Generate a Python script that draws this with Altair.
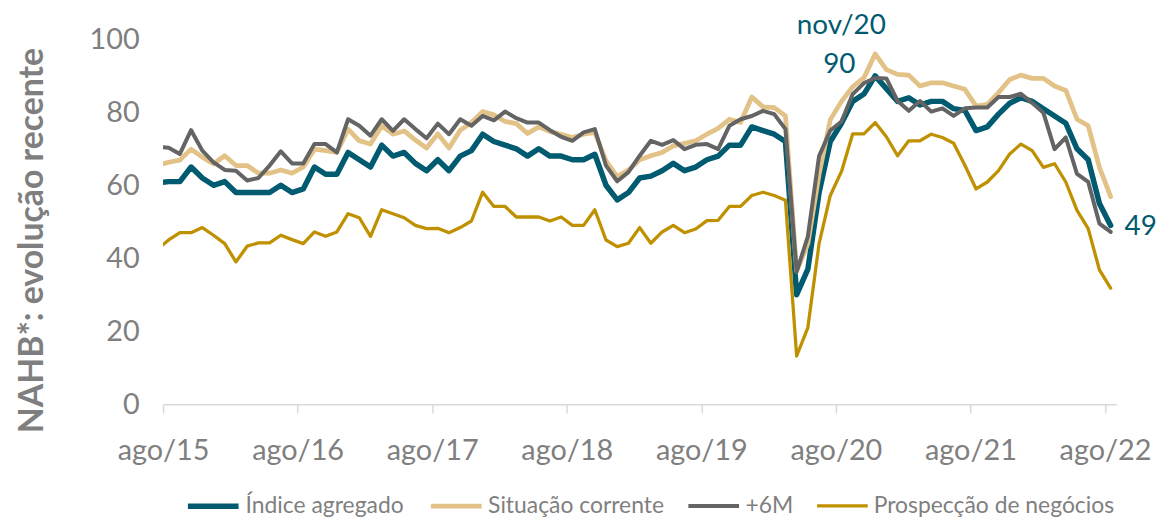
import json
import altair as alt
import pandas as pd

# ---- data (jul/15 .. ago/22, monthly; jul/15 only enters from the left edge) ----
months = pd.date_range("2015-07-01", "2022-08-01", freq="MS")
mes_abrev = ["jan", "fev", "mar", "abr", "mai", "jun", "jul", "ago", "set", "out", "nov", "dez"]

indice_agregado = [60.7,
    61, 61, 65, 62, 60, 61, 58, 58, 58, 58, 60, 58, 59,
    65, 63, 63, 69, 67, 65, 71, 68, 69, 66, 64, 67,
    64, 68, 69.5, 74, 72, 71, 70, 68, 70, 68, 68, 67, 67,
    68.5, 60, 56, 58, 62, 62.5, 64, 66, 64, 65, 67, 68,
    71, 71, 76, 75, 74, 72, 30, 37, 58, 72, 77, 83, 85, 90, 86.5, 83, 84, 82, 83, 83, 81, 80.5,
    75, 76, 79.5, 82.5, 84, 83, 81, 79, 77, 70, 67, 55, 49]

situacao_corrente = [65.5,
    66.3, 66.9, 69.9, 67.7, 65.9, 68.1, 65.4, 65.4, 63.3, 63.3, 64.2, 63.3, 65,
    69.9, 69.5, 69, 75.4, 72.2, 71.3, 76.3, 74, 74.9, 72.4, 70.2, 74.1,
    70.2, 75.1, 77.2, 80.2, 79.3, 77.5, 76.9, 74.2, 76, 74.7, 74, 73.1, 74,
    74.5, 66.7, 62.4, 64.2, 67, 68.1, 69, 70.8, 71.5, 72.2, 74, 75.6,
    78.1, 77.2, 84.2, 81.5, 81.3, 79, 36.5, 44, 63, 78, 83, 87, 89.5, 96, 91.7, 90.4, 90.2, 87.2, 88.1, 88.1, 87.2, 86.3,
    81.7, 82.2, 85.4, 89, 90.2, 89.3, 89.3, 87.2, 86, 78.1, 76.3, 64.9, 56.9]

mais_6m = [70.5,
    70.3, 68.6, 75.1, 69.5, 66.3, 64.2, 64, 61.3, 62, 65.4, 69.3, 66, 66,
    71.3, 71.3, 69, 78.1, 76.3, 73.6, 78.1, 74.9, 78.1, 75.4, 72.9, 76.9,
    74, 78.1, 76.3, 79, 77.8, 80.2, 78.4, 77.2, 77.2, 75.1, 73.3, 72.2, 74.5,
    75.4, 65.4, 61.1, 63.6, 68.1, 72.2, 71.1, 72.4, 69.9, 71.1, 71.3, 69.9,
    76.3, 78.1, 79, 80.4, 79.5, 75.4, 36.3, 46, 68, 75, 77.5, 85, 88, 89.4, 89.3, 83.1, 80.4, 83.1, 80.2, 81.1, 79, 81.1,
    81.3, 81.3, 84.2, 84.2, 85.1, 82.6, 79.9, 69.9, 73.1, 63.1, 60.9, 49.5, 47.2]

prospeccao = [42.5,
    45, 47, 47, 48.4, 46.3, 44, 39, 43.3, 44.2, 44.2, 46.3, 45.1, 44,
    47.2, 46, 47.2, 52.2, 51.1, 46, 53.3, 52.2, 51.1, 49, 48.1, 48.2,
    47, 48.4, 50.2, 58.1, 54.2, 54.2, 51.3, 51.3, 51.3, 50.2, 51.3, 49, 49,
    53.3, 45, 43.2, 44.1, 48.4, 44.1, 47.2, 49, 47, 48, 50.3, 50.4,
    54.2, 54.2, 57.2, 58.1, 57.2, 55.9, 13.2, 21, 44, 57.2, 63.8, 74.1, 74.1, 77.2, 73.3, 68.1, 72.2, 72.2, 74, 73.1, 71.5, 65.5,
    59, 60.9, 64, 68.6, 71.3, 69.5, 64.9, 65.9, 60.9, 53.1, 48.1, 36.8, 31.8]

series_names = ["Índice agregado", "Situação corrente", "+6M", "Prospecção de negócios"]
series_values = [indice_agregado, situacao_corrente, mais_6m, prospeccao]
tick_labels = ["ago/15", "ago/16", "ago/17", "ago/18", "ago/19", "ago/20", "ago/21", "ago/22"]

colors = ["#005a70", "#e2c286", "#646464", "#bf9000"]
widths = [5.5, 3.3, 3.3, 3.3]
GREY = "#7f7f7f"
FONT = "Lato"

# month index: 0 = ago/15
m_index = [(d.year - 2015) * 12 + d.month - 8 for d in months]
mes_label = [f"{mes_abrev[d.month - 1]}/{str(d.year)[2:]}" for d in months]

rows = []
for name, vals in zip(series_names, series_values):
    for m, lab, v in zip(m_index, mes_label, vals):
        rows.append({"serie": name, "m": m, "mes": lab, "v": v})
df = pd.DataFrame(rows)

blue = df[df.serie == series_names[0]]
peak = blue.loc[[blue.v.idxmax()]]
last = blue.iloc[[-1]]

tick_vals = [-0.5 + 12 * k for k in range(len(tick_labels))]
label_expr = f"{json.dumps(tick_labels)}[round((datum.value + 0.5) / 12)]"

color_scale = alt.Scale(domain=series_names, range=colors)
width_scale = alt.Scale(domain=series_names, range=widths)
legend = alt.Legend(
    orient="none", legendX=22, legendY=441, direction="horizontal", title=None,
    symbolType="stroke", symbolSize=2600, labelFont=FONT, labelFontSize=23,
    labelColor=GREY, columnPadding=16, labelOffset=4, labelLimit=400,
)

x_enc = alt.X(
    "m:Q",
    scale=alt.Scale(domain=[-0.5, 84.5], nice=False, zero=False),
    axis=alt.Axis(
        values=tick_vals, labelExpr=label_expr, title=None, grid=False,
        domainColor="#d9d9d9", domainWidth=1.5, tickColor="#d9d9d9", tickWidth=1.5,
        tickSize=9, labelFont=FONT, labelFontSize=29, labelColor=GREY,
        labelPadding=24, labelOverlap=False, labelFlush=False,
    ),
)
y_enc = alt.Y(
    "v:Q",
    scale=alt.Scale(domain=[0, 100], nice=False),
    axis=alt.Axis(
        values=[0, 20, 40, 60, 80, 100], grid=False, domain=False, ticks=False,
        labelFont=FONT, labelFontSize=29, labelColor=GREY, labelPadding=24,
        title="NAHB*: evolução recente", titleFont=FONT, titleFontSize=34,
        titleFontWeight="bold", titleColor=GREY, titleX=-131, titleY=202,
        titleAngle=270, titleBaseline="middle", titleAlign="center",
    ),
)

layers = []
for name in series_names:
    layers.append(
        alt.Chart(df)
        .transform_filter(alt.datum.serie == name)
        .mark_line(clip=True, strokeJoin="round", strokeCap="round")
        .encode(
            x=x_enc, y=y_enc,
            color=alt.Color("serie:N", scale=color_scale, legend=legend),
            strokeWidth=alt.StrokeWidth("serie:N", scale=width_scale, legend=legend),
        )
    )

txt = dict(font=FONT, fontSize=28, color=colors[0])
peak_val = alt.Chart(peak).mark_text(align="center", baseline="middle", dx=-36, dy=-11, **txt).encode(
    x="m:Q", y="v:Q", text=alt.Text("v:Q", format=".0f"))
peak_mes = alt.Chart(peak).mark_text(align="center", baseline="middle", dx=-34, dy=-50, **txt).encode(
    x="m:Q", y="v:Q", text="mes:N")
last_val = alt.Chart(last).mark_text(align="left", baseline="middle", dx=14, dy=2, **txt).encode(
    x="m:Q", y="v:Q", text=alt.Text("v:Q", format=".0f"))

chart = (
    alt.layer(*layers, peak_val, peak_mes, last_val)
    .properties(
        width=959, height=367,
        autosize=alt.AutoSizeParams(type="none"),
        padding={"left": 156, "top": 30, "right": 42, "bottom": 114},
    )
    .configure_view(stroke=None)
)

chart.save("out.html", embed_options={"renderer": "svg", "actions": False})
